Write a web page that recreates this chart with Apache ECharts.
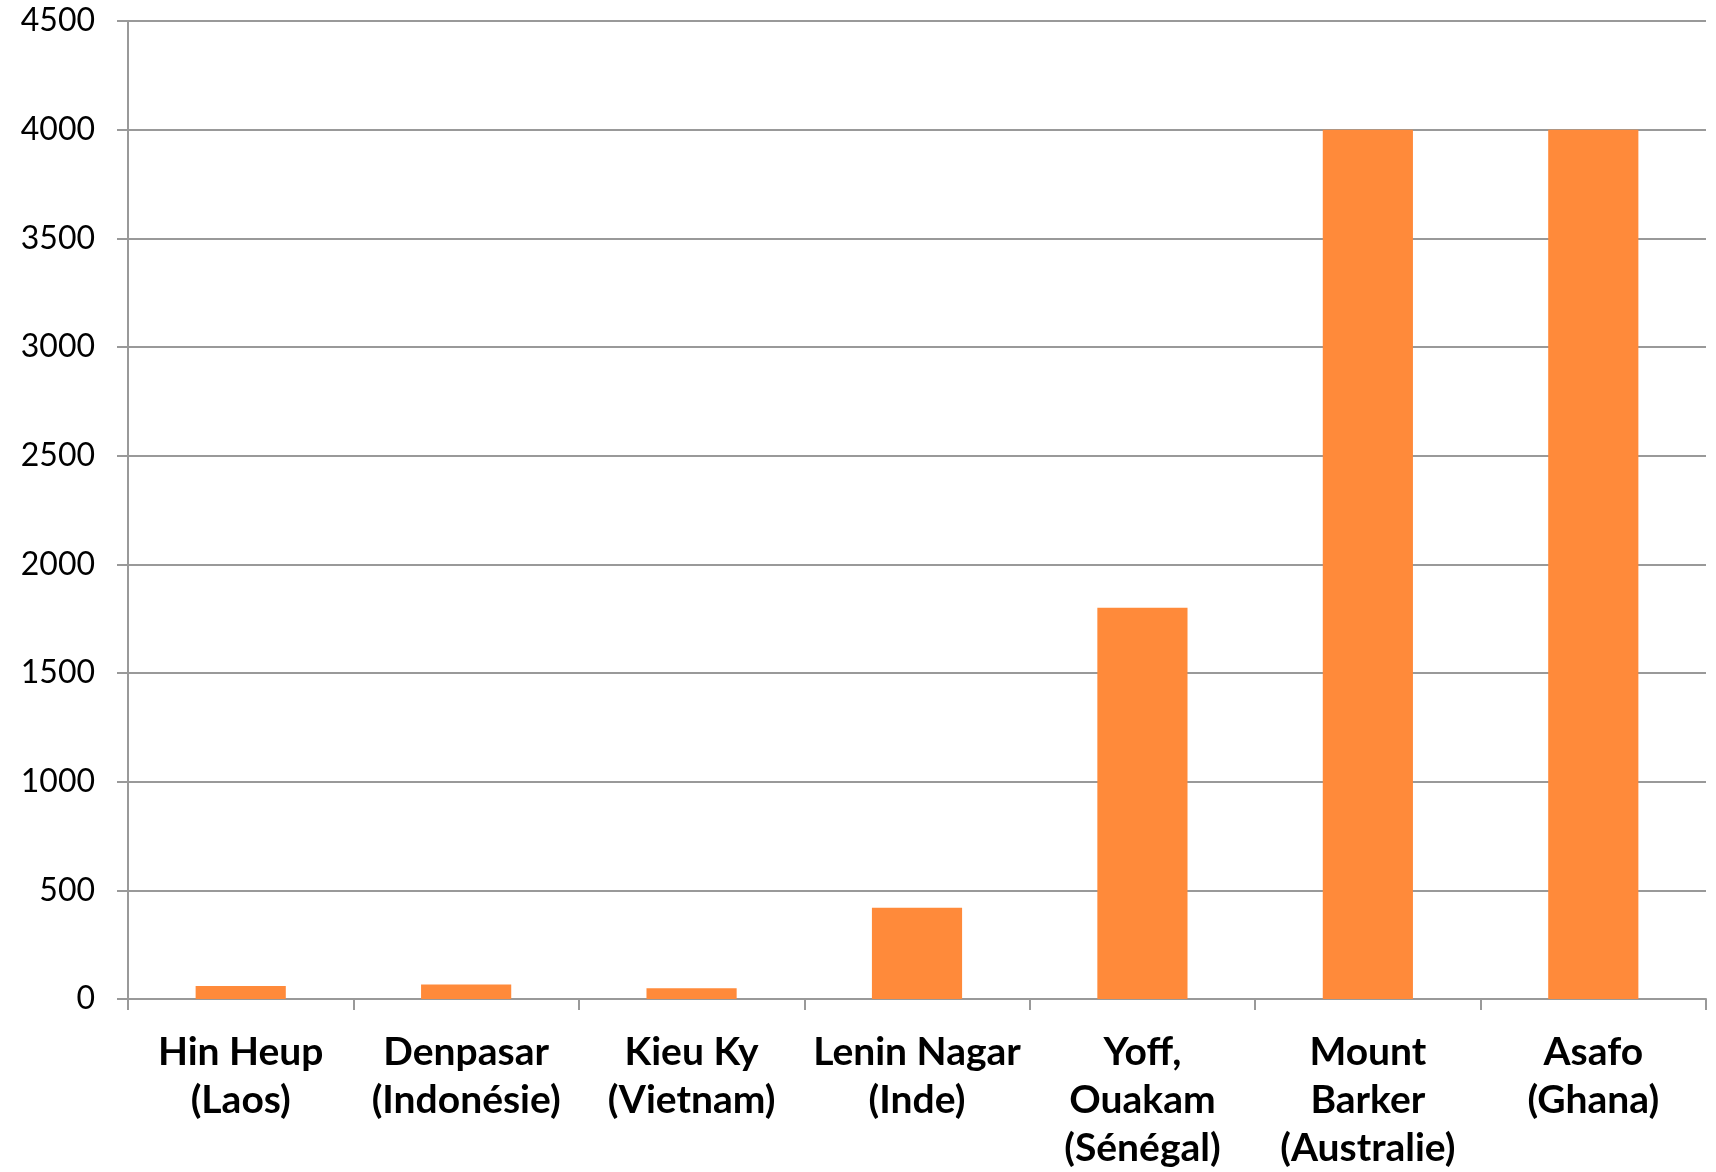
<!DOCTYPE html>
<html>
<head>
<meta charset="utf-8">
<script src="https://cdn.jsdelivr.net/npm/echarts@6/dist/echarts.min.js"></script>
<style>
html,body{margin:0;padding:0;background:#fff;}
#chart{width:1716px;height:1172px;}
</style>
</head>
<body>
<div id="chart"></div>
<script>
const categories = [
  'Hin Heup\n(Laos)',
  'Denpasar\n(Indonésie)',
  'Kieu Ky\n(Vietnam)',
  'Lenin Nagar\n(Inde)',
  'Yoff,\nOuakam\n(Sénégal)',
  'Mount\nBarker\n(Australie)',
  'Asafo\n(Ghana)'
];
const values = [60, 67, 49, 420, 1800, 4000, 4000];
const yTicks = { min: 0, max: 4500, interval: 500 };

const chart = echarts.init(document.getElementById('chart'));
chart.setOption({
  animation: false,
  backgroundColor: '#ffffff',
  grid: { left: 128, right: 10, top: 21, bottom: 161, containLabel: false },
  xAxis: {
    type: 'category',
    data: categories,
    axisLine: { show: true, lineStyle: { color: '#999999', width: 2 } },
    axisTick: { show: true, length: 11, lineStyle: { color: '#999999', width: 2 } },
    axisLabel: {
      interval: 0,
      margin: 29,
      color: '#000',
      fontFamily: 'Lato',
      fontWeight: 'bold',
      fontSize: 39,
      lineHeight: 48
    },
    splitLine: { show: false }
  },
  yAxis: {
    type: 'value',
    min: yTicks.min,
    max: yTicks.max,
    interval: yTicks.interval,
    axisLine: { show: true, lineStyle: { color: '#999999', width: 2 } },
    axisTick: { show: true, length: 11, lineStyle: { color: '#999999', width: 2 } },
    axisLabel: {
      margin: 33,
      color: '#000',
      fontFamily: 'Lato',
      fontSize: 32,
      formatter: function (v) { return String(v); }
    },
    splitLine: { show: true, lineStyle: { color: '#999999', width: 2 } }
  },
  series: [{
    type: 'bar',
    data: values,
    barWidth: '40%',
    itemStyle: { color: '#FF8A3A' }
  }]
});
</script>
</body>
</html>
